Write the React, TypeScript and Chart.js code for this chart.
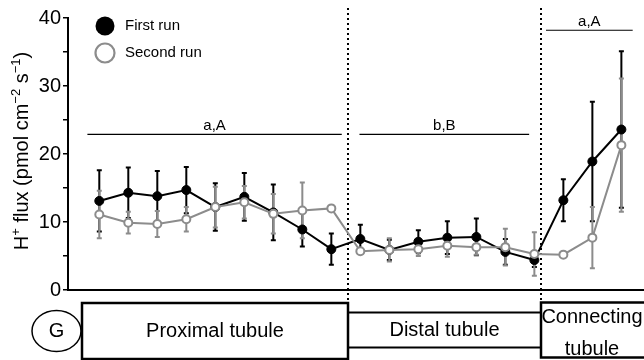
import React, { useEffect, useRef } from "react";
import { Chart, registerables } from "chart.js";

Chart.register(...registerables);

// ---- data ----
const positions = [0, 1, 2, 3, 4, 5, 6, 7, 8, 9, 10, 11, 12, 13, 14, 15, 16, 17, 18];
const firstRun = [13.1, 14.3, 13.8, 14.7, 12.2, 13.7, 11.4, 8.9, 6.0, 7.5, 5.9, 7.1, 7.7, 7.8, 5.6, 4.4, 13.2, 18.9, 23.6];
const firstRunErr = [4.5, 3.7, 3.7, 3.4, 3.5, 3.5, 4.1, 2.5, 2.3, 2.1, 1.5, 1.7, 2.4, 2.7, 1.9, 1.0, 3.1, 8.8, 11.5];
const secondRun = [11.1, 9.9, 9.7, 10.4, 12.2, 12.9, 11.2, 11.7, 12.0, 5.7, 5.9, 6.0, 6.5, 6.3, 6.3, 5.3, 5.2, 7.7, 21.3];
const secondRunErr = [3.5, 1.6, 1.9, 1.8, 3.0, 2.4, 2.9, 4.1, 0, 0, 1.7, 1.0, 1.6, 1.1, 2.7, 3.2, 0, 4.5, 9.8];
const segmentBounds = [8.57, 15.22];
const sigLabels = ["a,A", "b,B", "a,A"];
const sigFrom = [-0.41, 8.97, 15.4];
const sigTo = [8.36, 14.82, 18.39];
const sigLevel = [22.9, 22.9, 38.2];
const yTicks = [0, 10, 20, 30, 40];
const legendLabels = ["First run", "Second run"];

const X_MIN = -1.079;
const X_MAX = 18.78;
const GRAY = "#8c8c8c";
const FONT = "'Liberation Sans', Arial, sans-serif";

const overlay = {
  id: "overlay",
  beforeDatasetsDraw(chart: any) {
    const { ctx, scales } = chart;
    const xs = scales.x;
    const ys = scales.y;
    ctx.save();
    // dotted separators
    ctx.strokeStyle = "#000";
    ctx.lineWidth = 2;
    ctx.setLineDash([2, 3]);
    segmentBounds.forEach((b) => {
      const px = Math.round(xs.getPixelForValue(b));
      ctx.beginPath();
      ctx.moveTo(px, 8);
      ctx.lineTo(px, 302);
      ctx.stroke();
    });
    ctx.setLineDash([]);
    // significance lines
    ctx.lineWidth = 1.2;
    sigLabels.forEach((lab, i) => {
      const y = ys.getPixelForValue(sigLevel[i]);
      const x1 = xs.getPixelForValue(sigFrom[i]);
      const x2 = xs.getPixelForValue(sigTo[i]);
      ctx.beginPath();
      ctx.moveTo(x1, y);
      ctx.lineTo(x2, y);
      ctx.stroke();
      ctx.fillStyle = "#000";
      ctx.font = `15px ${FONT}`;
      ctx.textAlign = "center";
      ctx.textBaseline = "alphabetic";
      ctx.fillText(lab, (x1 + x2) / 2, y - 4);
    });
    // error bars
    const drawBars = (vals: number[], errs: number[], color: string) => {
      ctx.strokeStyle = color;
      ctx.lineWidth = 2;
      positions.forEach((p, i) => {
        const e = errs[i];
        if (!e) return;
        const x = xs.getPixelForValue(p);
        const yt = ys.getPixelForValue(vals[i] + e);
        const yb = ys.getPixelForValue(vals[i] - e);
        ctx.beginPath();
        ctx.moveTo(x, yt);
        ctx.lineTo(x, yb);
        ctx.moveTo(x - 2.5, yt);
        ctx.lineTo(x + 2.5, yt);
        ctx.moveTo(x - 2.5, yb);
        ctx.lineTo(x + 2.5, yb);
        ctx.stroke();
      });
    };
    drawBars(firstRun, firstRunErr, "#000");
    drawBars(secondRun, secondRunErr, GRAY);
    ctx.restore();
  },
  afterDraw(chart: any) {
    const { ctx, scales } = chart;
    const xs = scales.x;
    ctx.save();
    // legend
    ctx.beginPath();
    ctx.arc(105, 26, 9.5, 0, Math.PI * 2);
    ctx.fillStyle = "#000";
    ctx.fill();
    ctx.beginPath();
    ctx.arc(105, 53, 9.5, 0, Math.PI * 2);
    ctx.fillStyle = "#fff";
    ctx.fill();
    ctx.strokeStyle = GRAY;
    ctx.lineWidth = 2.2;
    ctx.stroke();
    ctx.fillStyle = "#000";
    ctx.font = `15px ${FONT}`;
    ctx.textAlign = "left";
    ctx.textBaseline = "middle";
    ctx.fillText(legendLabels[0], 125, 26);
    ctx.fillText(legendLabels[1], 125, 53);

    // y title
    ctx.save();
    ctx.translate(22, 151);
    ctx.rotate(-Math.PI / 2);
    const big = `20px ${FONT}`;
    const small = `13px ${FONT}`;
    const parts: [string, boolean][] = [
      ["H", false], ["+", true], [" flux (pmol cm", false], ["\u22122", true],
      [" s", false], ["\u22121", true], [")", false],
    ];
    let total = 0;
    parts.forEach(([t, s]) => {
      ctx.font = s ? small : big;
      total += ctx.measureText(t).width;
    });
    let cx = -total / 2;
    ctx.textAlign = "left";
    ctx.textBaseline = "middle";
    parts.forEach(([t, s]) => {
      ctx.font = s ? small : big;
      ctx.fillText(t, cx, s ? -6 : 0);
      cx += ctx.measureText(t).width;
    });
    ctx.restore();

    // bottom boxes
    const b1 = Math.round(xs.getPixelForValue(segmentBounds[0]));
    const b2 = Math.round(xs.getPixelForValue(segmentBounds[1]));
    ctx.strokeStyle = "#000";
    ctx.lineWidth = 1.5;
    ctx.beginPath();
    ctx.ellipse(56.5, 331, 24.5, 20.5, 0, 0, Math.PI * 2);
    ctx.stroke();
    ctx.lineWidth = 2.5;
    ctx.strokeRect(82, 303, b1 - 82, 56);
    ctx.lineWidth = 2;
    ctx.beginPath();
    ctx.moveTo(b1, 312.5);
    ctx.lineTo(b2, 312.5);
    ctx.moveTo(b1, 347.5);
    ctx.lineTo(b2, 347.5);
    ctx.stroke();
    ctx.lineWidth = 2.5;
    ctx.strokeRect(b2, 302.5, 120, 55);
    ctx.fillStyle = "#000";
    ctx.font = `20px ${FONT}`;
    ctx.textAlign = "center";
    ctx.textBaseline = "middle";
    ctx.fillText("G", 56.5, 331);
    ctx.fillText("Proximal tubule", (82 + b1) / 2, 331);
    ctx.fillText("Distal tubule", (b1 + b2) / 2, 330);
    ctx.fillText("Connecting", (b2 + 643) / 2, 317);
    ctx.fillText("tubule", (b2 + 643) / 2, 349);
    ctx.restore();
  },
};

export default function App() {
  const ref = useRef<HTMLCanvasElement>(null);
  useEffect(() => {
    document.body.style.margin = "0";
    const chart = new Chart(ref.current as HTMLCanvasElement, {
      type: "line",
      data: {
        datasets: [
          {
            label: legendLabels[1],
            data: positions.map((p, i) => ({ x: p, y: secondRun[i] })),
            borderColor: GRAY,
            borderWidth: 2,
            pointRadius: 4,
            pointBorderWidth: 2,
            pointBackgroundColor: "#fff",
            pointBorderColor: GRAY,
            order: 0,
          },
          {
            label: legendLabels[0],
            data: positions.map((p, i) => ({ x: p, y: firstRun[i] })),
            borderColor: "#000",
            borderWidth: 2,
            pointRadius: 4.5,
            pointBorderWidth: 1,
            pointBackgroundColor: "#000",
            pointBorderColor: "#000",
            order: 1,
          },
        ],
      },
      options: {
        responsive: false,
        animation: false,
        devicePixelRatio: 1,
        layout: { autoPadding: false, padding: { top: 18, bottom: 70, left: 0, right: 0 } },
        plugins: { legend: { display: false }, tooltip: { enabled: false } },
        scales: {
          x: {
            type: "linear",
            min: X_MIN,
            max: X_MAX,
            ticks: { display: false },
            grid: { display: false, drawTicks: false },
            border: { display: true, color: "#000", width: 2 },
            afterFit: (s: any) => {
              s.height = 0;
              s.paddingLeft = 0;
              s.paddingRight = 0;
            },
          },
          y: {
            min: 0,
            max: 40,
            afterBuildTicks: (s: any) => {
              const t: any[] = [];
              for (let v = 0; v <= 40; v += 5) t.push({ value: v });
              s.ticks = t;
            },
            ticks: {
              color: "#000",
              font: { size: 20, family: FONT },
              padding: 2,
              callback: (v: any) => (yTicks.includes(Number(v)) ? String(v) : ""),
            },
            grid: { display: true, drawOnChartArea: false, drawTicks: true, tickLength: 5, color: "#000", lineWidth: 1.5 },
            border: { display: true, color: "#000", width: 2 },
            afterFit: (s: any) => {
              s.width = 68;
              s.paddingTop = 0;
              s.paddingBottom = 0;
            },
          },
        },
      },
      plugins: [overlay],
    } as any);
    return () => chart.destroy();
  }, []);
  return (
    <div style={{ position: "absolute", left: 0, top: 0, width: 644, height: 360 }}>
      <canvas ref={ref} width={644} height={360} />
    </div>
  );
}
